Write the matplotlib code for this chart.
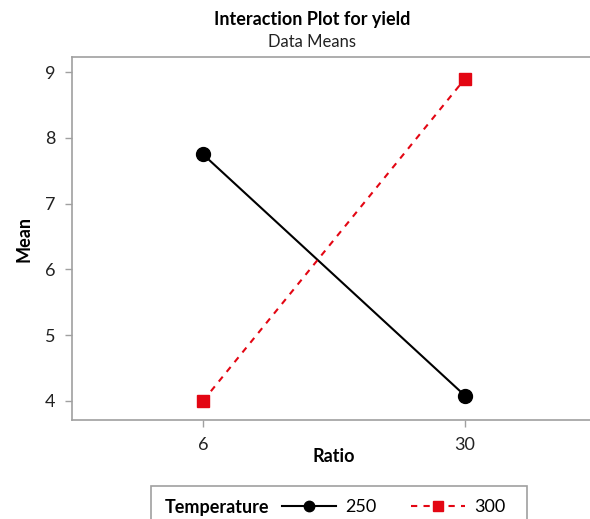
from matplotlib import pyplot as plt
from matplotlib.patches import Rectangle

# data means
ratio = ['6', '30']
mean_250 = [7.75, 4.08]
mean_300 = [4.0, 8.9]

plt.rcParams['font.family'] = ['Lato', 'DejaVu Sans']

fig = plt.figure(figsize=(5.9, 5.19), dpi=100)
W, H = 590, 519
# axes box in pixels: left 72, right ~596 (runs off the picture), top 57, bottom 420
ax = fig.add_axes([72 / W, 1 - 420 / H, (596 - 72) / W, (420 - 57) / H])

grey = '#a0a0a0'
red = '#e30613'
x = list(range(len(ratio)))
l1, = ax.plot(x, mean_250, color='black', lw=1.5, marker='o', markersize=10, label='250')
l2, = ax.plot(x, mean_300, color=red, lw=1.5, ls=(0, (3, 3)), marker='s', markersize=9,
              label='300')

ax.set_xlim(-0.5, 1.5)
ax.set_ylim(3.71, 9.23)
ax.set_xticks(x)
ax.set_xticklabels(ratio)
ax.set_yticks([4, 5, 6, 7, 8, 9])
ax.tick_params(colors=grey, labelcolor='#222222', labelsize=13, length=5, width=1, pad=7)
for s in ax.spines.values():
    s.set_color(grey)
    s.set_linewidth(1.2)
ax.spines['right'].set_visible(False)

ax.set_xlabel('Ratio', fontsize=13, fontweight='bold', labelpad=-3)
ax.set_ylabel('Mean', fontsize=13, fontweight='bold', labelpad=9)

fig.text(312 / W, 1 - 20 / H, 'Interaction Plot for yield', ha='center', va='center',
         fontsize=13, fontweight='bold')
fig.text(312 / W, 1 - 42 / H, 'Data Means', ha='center', va='center', fontsize=12,
         color='#222222')

# legend box
fig.patches.append(Rectangle((151 / W, 1 - 540 / H), (527 - 151) / W, (540 - 486) / H,
                             transform=fig.transFigure, fill=False, edgecolor=grey, lw=1.2))
fig.text(165 / W, 1 - 507 / H, 'Temperature', ha='left', va='center', fontsize=13,
         fontweight='bold')
fig.legend(handles=[l1, l2], loc='center left', bbox_to_anchor=(282 / W, 1 - 507 / H),
           ncol=2, frameon=False, fontsize=13, handlelength=3.0, handletextpad=0.5,
           columnspacing=1.9, markerscale=0.75, borderpad=0, borderaxespad=0)

fig.savefig('out.png', dpi=100)
